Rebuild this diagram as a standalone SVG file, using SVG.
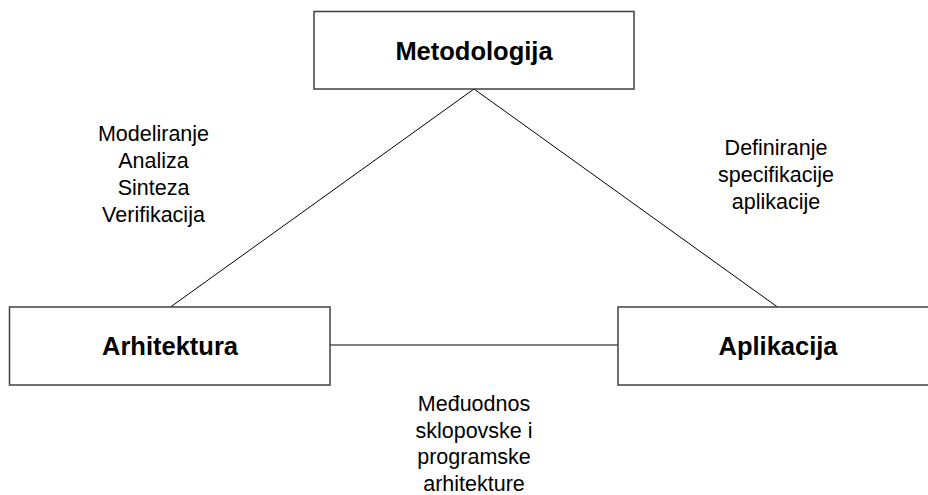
<svg xmlns="http://www.w3.org/2000/svg" width="928" height="495" viewBox="0 0 928 495">
<style>
.box{fill:#fff;stroke:#404040;stroke-width:1.5}
.title{font-family:"Liberation Sans",Arial,sans-serif;font-weight:bold;font-size:25.5px;fill:#000;text-anchor:middle}
.lbl{font-family:"Liberation Sans",Arial,sans-serif;font-size:21.5px;fill:#000;text-anchor:middle}
.conn line{stroke:#000;stroke-width:1}
</style>
<rect width="928" height="495" fill="#fff"/>
<g class="conn" id="connectors">
<line x1="474" y1="89" x2="170.5" y2="307"/>
<line x1="474" y1="89" x2="777.5" y2="307"/>
<line x1="330" y1="345" x2="618" y2="345" stroke="#404040"/>
</g>
<g id="metodologija">
<rect class="box" x="314" y="11.5" width="320" height="77.5"/>
<text class="title" x="474" y="60">Metodologija</text>
</g>
<g id="arhitektura">
<rect class="box" x="9.5" y="307" width="320.5" height="78"/>
<text class="title" x="170" y="355">Arhitektura</text>
</g>
<g id="aplikacija">
<rect class="box" x="618" y="307" width="320" height="78"/>
<text class="title" x="778" y="355">Aplikacija</text>
</g>
<g id="label-left">
<text class="lbl" x="153.5" y="140.5">Modeliranje</text>
<text class="lbl" x="153.5" y="167.5">Analiza</text>
<text class="lbl" x="153.5" y="194.5">Sinteza</text>
<text class="lbl" x="153.5" y="221.5">Verifikacija</text>
</g>
<g id="label-right">
<text class="lbl" x="776" y="155">Definiranje</text>
<text class="lbl" x="776" y="182">specifikacije</text>
<text class="lbl" x="776" y="209">aplikacije</text>
</g>
<g id="label-bottom">
<text class="lbl" x="474" y="411">Međuodnos</text>
<text class="lbl" x="474" y="437.5">sklopovske i</text>
<text class="lbl" x="474" y="464">programske</text>
<text class="lbl" x="474" y="490.5">arhitekture</text>
</g>
</svg>
